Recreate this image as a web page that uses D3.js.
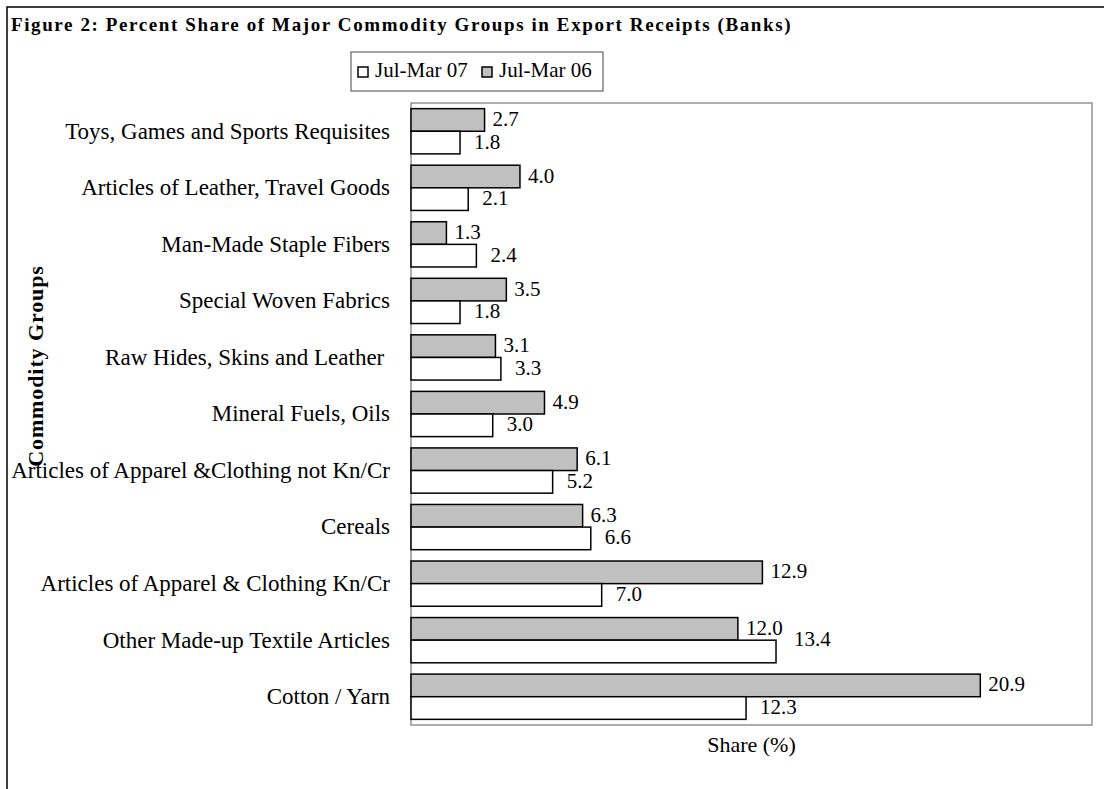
<!DOCTYPE html>
<html lang="en">
<head>
<meta charset="utf-8">
<title>Percent Share of Major Commodity Groups</title>
<script src="https://d3js.org/d3.v7.min.js"></script>
<style>
  body { margin: 0; background: #fff; }
  svg { display: block; font-family: "Liberation Serif", "Times New Roman", serif; }
</style>
</head>
<body>
<script>
// values
const categories = [
  "Toys, Games and Sports Requisites",
  "Articles of Leather, Travel Goods",
  "Man-Made Staple Fibers",
  "Special Woven Fabrics",
  "Raw Hides, Skins and Leather ",
  "Mineral Fuels, Oils",
  "Articles of Apparel &Clothing not Kn/Cr",
  "Cereals",
  "Articles of Apparel & Clothing Kn/Cr",
  "Other Made-up Textile Articles",
  "Cotton / Yarn"
];
const julMar06 = [2.7, 4.0, 1.3, 3.5, 3.1, 4.9, 6.1, 6.3, 12.9, 12.0, 20.9];
const julMar07 = [1.8, 2.1, 2.4, 1.8, 3.3, 3.0, 5.2, 6.6, 7.0, 13.4, 12.3];
const seriesNames = ["Jul-Mar 07", "Jul-Mar 06"];

const W = 1104, H = 789;
const plot = {left: 411, right: 1092, top: 103, bottom: 725};

const svg = d3.select("body").append("svg")
  .attr("width", W).attr("height", H);

// outer frame (top and left only, as in the source)
svg.append("path")
  .attr("d", `M7,${H} L7,7 L${W},7`)
  .attr("fill", "none").attr("stroke", "#000").attr("stroke-width", 1.5);

svg.append("text")
  .attr("x", 11).attr("y", 31)
  .attr("font-size", 19).attr("font-weight", "bold")
  .attr("letter-spacing", 1.6)
  .text("Figure 2: Percent Share of Major Commodity Groups in Export Receipts (Banks)");

const x = d3.scaleLinear().domain([0, 25]).range([plot.left, plot.right]);
const y = d3.scaleBand().domain(categories).range([plot.top, plot.bottom])
  .paddingInner(0.2).paddingOuter(0.1);
const sub = d3.scaleBand().domain(["06", "07"]).range([0, y.bandwidth()]);

// plot area box
svg.append("rect")
  .attr("x", plot.left).attr("y", plot.top)
  .attr("width", plot.right - plot.left).attr("height", plot.bottom - plot.top)
  .attr("fill", "none").attr("stroke", "#777").attr("stroke-width", 1.2);

// category axis
const yAxis = d3.axisLeft(y).tickSize(0).tickPadding(21);
svg.append("g")
  .attr("transform", `translate(${plot.left},0)`)
  .call(yAxis)
  .call(g => g.select(".domain").remove())
  .selectAll("text")
  .attr("font-family", "Liberation Serif, serif")
  .attr("font-size", 23)
  .attr("fill", "#000")
  .style("white-space", "pre");

const rows = categories.map((c, i) => ({c, v06: julMar06[i], v07: julMar07[i]}));

const grp = svg.append("g").selectAll("g").data(rows).join("g")
  .attr("transform", d => `translate(0,${y(d.c)})`);

grp.append("rect")
  .attr("x", x(0)).attr("y", sub("06"))
  .attr("width", d => x(d.v06) - x(0)).attr("height", sub.bandwidth())
  .attr("fill", "#c0c0c0").attr("stroke", "#000").attr("stroke-width", 1.5);

grp.append("rect")
  .attr("x", x(0)).attr("y", sub("07"))
  .attr("width", d => x(d.v07) - x(0)).attr("height", sub.bandwidth())
  .attr("fill", "#fff").attr("stroke", "#000").attr("stroke-width", 1.5);

grp.append("text")
  .attr("x", d => x(d.v06) + 8)
  .attr("y", sub("06") + sub.bandwidth() / 2 + 6)
  .attr("font-size", 21)
  .text(d => d.v06.toFixed(1));

// white labels sit a bit further out; the wide two-digit grey label pushes it up
const crowded = d => d.v07 > d.v06 && d.v06 >= 10;
grp.append("text")
  .attr("x", d => x(d.v07) + (crowded(d) ? 18 : 14))
  .attr("y", d => sub("07") + sub.bandwidth() / 2 + 6 - (crowded(d) ? 11 : 0))
  .attr("font-size", 21)
  .text(d => d.v07.toFixed(1));

// axis titles
svg.append("text")
  .attr("x", (plot.left + plot.right) / 2).attr("y", 752)
  .attr("text-anchor", "middle").attr("font-size", 22)
  .text("Share (%)");

svg.append("text")
  .attr("transform", "translate(43,366) rotate(-90)")
  .attr("text-anchor", "middle").attr("font-size", 22).attr("font-weight", "bold")
  .attr("letter-spacing", 0.9)
  .text("Commodity Groups");

// legend
const lg = svg.append("g");
lg.append("rect")
  .attr("x", 351).attr("y", 52).attr("width", 252).attr("height", 39)
  .attr("fill", "#fff").attr("stroke", "#444").attr("stroke-width", 1);

const legendX = d3.scalePoint().domain(seriesNames).range([358, 482]);
const item = lg.selectAll("g.item").data(seriesNames).join("g")
  .attr("class", "item")
  .attr("transform", d => `translate(${legendX(d)},67)`);
item.append("rect")
  .attr("width", 10).attr("height", 10)
  .attr("fill", d => d === "Jul-Mar 06" ? "#c0c0c0" : "#fff")
  .attr("stroke", "#000").attr("stroke-width", 1.5);
item.append("text")
  .attr("x", 17).attr("y", 10)
  .attr("font-size", 21)
  .text(d => d);
</script>
</body>
</html>
